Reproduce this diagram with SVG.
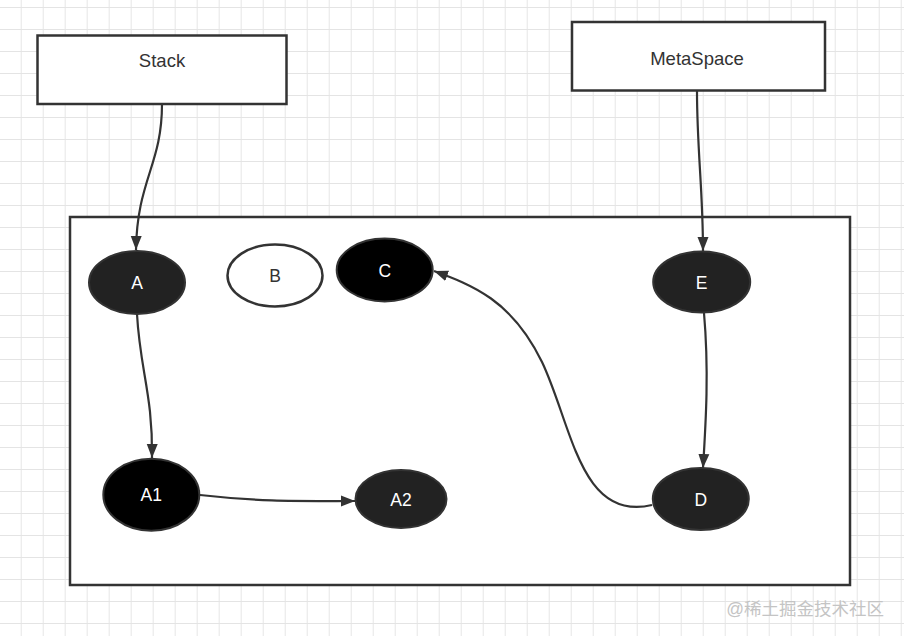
<svg xmlns="http://www.w3.org/2000/svg" width="904" height="636" viewBox="0 0 904 636">
  <defs>
    <pattern id="grid" x="-0.3" y="7" width="22" height="22" patternUnits="userSpaceOnUse">
      <path d="M22,0 V22 M0,0 H22" fill="none" stroke="#e4e4e4" stroke-width="1.8"/>
    </pattern>
    <marker id="arrow" viewBox="0 0 14 12" refX="14" refY="6" markerWidth="14" markerHeight="12" markerUnits="userSpaceOnUse" orient="auto">
      <path d="M0,0.5 L14,6 L0,11.5 Z" fill="#333"/>
    </marker>
    <style>
      .box { fill: #fff; stroke: #333; stroke-width: 2.5; }
      .label { font-family: "Liberation Sans", Arial, sans-serif; font-size: 18.5px; fill: #333; text-anchor: middle; }
      .dark { fill: #222; stroke: #333; stroke-width: 2; }
      .black { fill: #000; stroke: #333; stroke-width: 2; }
      .light { fill: #fff; stroke: #333; stroke-width: 2.5; }
      .wt { font-family: "Liberation Sans", Arial, sans-serif; font-size: 17.5px; fill: #fff; text-anchor: middle; dominant-baseline: central; }
      .bt { font-family: "Liberation Sans", Arial, sans-serif; font-size: 17.5px; fill: #333; text-anchor: middle; dominant-baseline: central; }
      .edge { fill: none; stroke: #333; stroke-width: 2.2; marker-end: url(#arrow); }
      .wm { font-family: "Liberation Sans", "Noto Sans CJK SC", sans-serif; font-size: 17.5px; fill: #c4c4c4; text-anchor: end; }
    </style>
  </defs>
  <rect width="904" height="636" fill="#fff"/>
  <rect width="904" height="636" fill="url(#grid)"/>

  <g id="container">
    <rect x="70" y="217" width="780" height="368" fill="#fff" stroke="#333" stroke-width="2.5"/>
  </g>

  <g id="stack">
    <rect class="box" x="37.5" y="35.5" width="249" height="68.5"/>
    <text class="label" x="162" y="66.5">Stack</text>
  </g>
  <g id="metaspace">
    <rect class="box" x="572" y="22" width="253" height="68.5"/>
    <text class="label" x="697" y="64.5">MetaSpace</text>
  </g>

  <g id="connectors">
    <path class="edge" d="M162,104 C162,165 137,180 136,250"/>
    <path class="edge" d="M137,314 C140,370 153,395 152,458"/>
    <path class="edge" d="M200,495 C262,502 300,501 355,501"/>
    <path class="edge" d="M697,91 C697,150 703,190 703,251"/>
    <path class="edge" d="M704,313 C709,370 706,420 703,468"/>
    <path class="edge" d="M652,505 C580,522 572,425 542,362 C512,300 472,285 434,271"/>
  </g>

  <g id="node-A">
    <ellipse class="dark" cx="137" cy="282.5" rx="48" ry="31.5"/>
    <text class="wt" x="137" y="282.5">A</text>
  </g>
  <g id="node-B">
    <ellipse class="light" cx="275" cy="275.5" rx="47.5" ry="31"/>
    <text class="bt" x="275" y="276">B</text>
  </g>
  <g id="node-C">
    <ellipse class="black" cx="384.7" cy="270" rx="48" ry="31.5"/>
    <text class="wt" x="384.7" y="270.5">C</text>
  </g>
  <g id="node-E">
    <ellipse class="dark" cx="701.7" cy="282" rx="48.5" ry="30.5"/>
    <text class="wt" x="701.7" y="282.5">E</text>
  </g>
  <g id="node-A1">
    <ellipse class="black" cx="151.3" cy="494.7" rx="48" ry="36"/>
    <text class="wt" x="151.3" y="494.7">A1</text>
  </g>
  <g id="node-A2">
    <ellipse class="dark" cx="401" cy="499" rx="45.5" ry="29"/>
    <text class="wt" x="401" y="500">A2</text>
  </g>
  <g id="node-D">
    <ellipse class="dark" cx="700.8" cy="499" rx="48" ry="31"/>
    <text class="wt" x="700.8" y="500">D</text>
  </g>

  <text class="wm" x="884" y="615">@稀土掘金技术社区</text>
</svg>
